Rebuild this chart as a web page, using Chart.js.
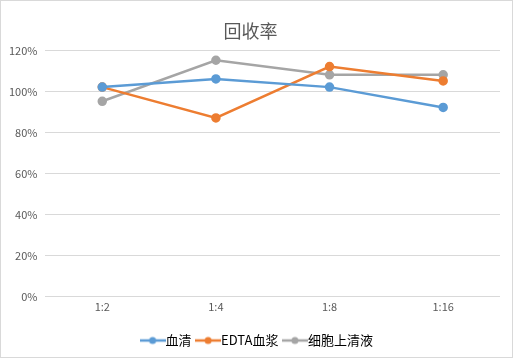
<!DOCTYPE html>
<html><head><meta charset="utf-8">
<script src="https://cdn.jsdelivr.net/npm/chart.js@4/dist/chart.umd.min.js"></script>
<style>
html,body{margin:0;padding:0;background:#fff;}
#wrap{position:absolute;left:0;top:0;width:511px;height:356px;border:1px solid #d9d9d9;}
</style></head><body>
<div id="wrap"><canvas id="c" width="511" height="356"></canvas></div>
<script>
const categories = ["1:2","1:4","1:8","1:16"];
const serum = [102.2, 106.2, 102.2, 92.3];
const edta = [102.2, 87.2, 112.2, 105.2];
const cellSup = [95.3, 115.3, 108.2, 108.2];
const seriesNames = ["血清","EDTA血浆","细胞上清液"];
const colors = ["#5b9bd5","#ed7d31","#a5a5a5"];
const font = '"Noto Sans CJK SC", "Noto Sans", sans-serif';

function legendIcon(color){
  const cv = document.createElement('canvas');
  cv.width = 26; cv.height = 10;
  const g = cv.getContext('2d');
  g.strokeStyle = color; g.lineWidth = 2.5;
  g.beginPath(); g.moveTo(0,5); g.lineTo(26,5); g.stroke();
  g.fillStyle = color; g.beginPath(); g.arc(13,5,3.5,0,Math.PI*2); g.fill();
  return cv;
}

const centerLegend = {
  id: 'centerLegend',
  beforeDraw(chart) { chart.legend.left = 4; chart.legend.right = 513; }
};

const data = {
  labels: categories,
  datasets: [serum, edta, cellSup].map((d,i)=>({
    label: seriesNames[i], data: d,
    borderColor: colors[i], backgroundColor: colors[i],
    borderWidth: 2.5, pointRadius: 3.5, pointHoverRadius: 3.5,
    pointStyle: 'circle', tension: 0
  }))
};

new Chart(document.getElementById('c'), {
  type: 'line',
  data,
  plugins: [centerLegend],
  options: {
    responsive: false, animation: false,
    layout: { padding: { left: 0, right: 12, top: 8, bottom: 0 } },
    plugins: {
      title: { display: true, text: '回收率', color: '#595959',
        font: { family: font, size: 18, weight: 'normal' }, padding: { top: 11, bottom: 9 } },
      legend: { position: 'bottom',
        labels: { color: '#000', font: { family: font, size: 13 }, usePointStyle: true,
          boxWidth: 26, boxHeight: 10, padding: 10,
          generateLabels: (chart) => chart.data.datasets.map((ds,i)=>({
            text: ds.label, pointStyle: legendIcon(colors[i]), fillStyle: colors[i],
            strokeStyle: colors[i], lineWidth: 0, datasetIndex: i, hidden: false, fontColor: '#000'
          }))
        } },
      tooltip: { enabled: false }
    },
    scales: {
      x: { offset: true, grid: { display: false, drawTicks: false }, border: { display: false },
        ticks: { color: '#595959', font: { family: font, size: 11 }, padding: 3 },
        afterFit: (s) => { s.height += 8; } },
      y: { min: 0, max: 120, grid: { color: '#d9d9d9', drawTicks: false }, border: { display: false },
        ticks: { stepSize: 20, color: '#595959', font: { family: font, size: 11 }, padding: 8,
          callback: v => v + '%' } }
    }
  }
});
</script>
</body></html>
